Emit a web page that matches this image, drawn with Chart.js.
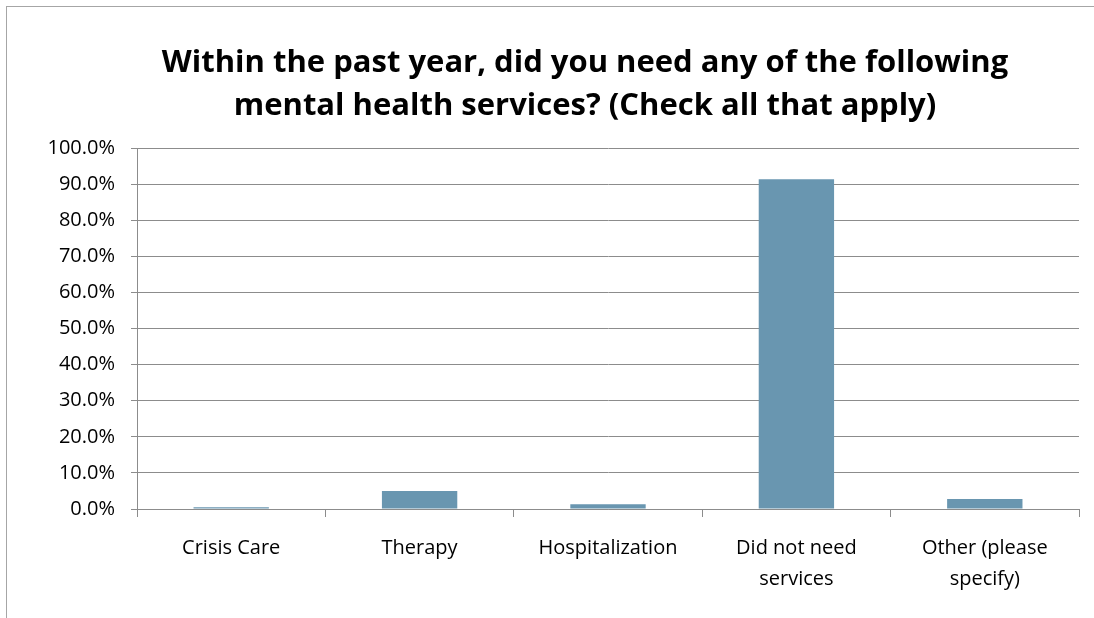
<!DOCTYPE html>
<html>
<head>
<meta charset="utf-8">
<script src="https://cdn.jsdelivr.net/npm/chart.js@4.4.0/dist/chart.umd.min.js"></script>
<style>
    html, body { margin: 0; padding: 0; background: #fff; overflow: hidden; }
    .frame {
        position: absolute; left: 6px; top: 6px; width: 1200px; height: 700px;
        border: 1px solid #a6a6a6; box-sizing: border-box;
    }
    .wrap { position: absolute; left: 0; top: 0; width: 1170px; height: 618px; }
</style>
</head>
<body>
<div class="frame"></div>
<div class="wrap"><canvas id="chart" width="1170" height="618"></canvas></div>
<script>
// データ
const categories = ['Crisis Care', 'Therapy', 'Hospitalization', ['Did not need', 'services'], ['Other (please', 'specify)']];
const values = [0.005, 0.05, 0.013, 0.914, 0.028];
const titleLines = ['Within the past year, did you need any of the following', 'mental health services? (Check all that apply)'];

const FONT = '"Open Sans", "Liberation Sans", sans-serif';

const ctx = document.getElementById('chart').getContext('2d');
new Chart(ctx, {
    type: 'bar',
    data: {
        labels: categories,
        datasets: [{
            data: values,
            backgroundColor: '#6996B0',
            barPercentage: 0.4,
            categoryPercentage: 1.0
        }]
    },
    options: {
        responsive: false,
        animation: false,
        plugins: {
            legend: { display: false },
            tooltip: { enabled: false },
            title: {
                display: true,
                text: titleLines,
                color: '#000',
                font: { family: FONT, size: 31, weight: 'bold', lineHeight: 1.39 },
                padding: { top: 42, bottom: 20 }
            }
        },
        scales: {
            y: {
                min: 0,
                max: 1,
                ticks: {
                    stepSize: 0.1,
                    color: '#000',
                    font: { family: FONT, size: 20 },
                    padding: 16,
                    callback: v => (v * 100).toFixed(1) + '%'
                },
                grid: { color: '#8c8c8c', tickLength: 6, tickColor: '#8c8c8c' },
                border: { color: '#8c8c8c' },
                afterFit: s => { s.width = 137; }
            },
            // 右側の空白用（元のチャートは右が切れている）
            yRight: {
                position: 'right',
                display: true,
                ticks: { display: false },
                grid: { display: false },
                border: { display: false },
                afterFit: s => { s.width = 91; }
            },
            x: {
                ticks: {
                    color: '#000',
                    font: { family: FONT, size: 20, lineHeight: 1.55 },
                    padding: 16,
                    maxRotation: 0,
                    autoSkip: false
                },
                grid: { drawOnChartArea: false, tickLength: 8, color: '#8c8c8c' },
                border: { color: '#8c8c8c' },
                afterFit: s => { s.height = 109; }
            }
        }
    }
});
</script>
</body>
</html>
